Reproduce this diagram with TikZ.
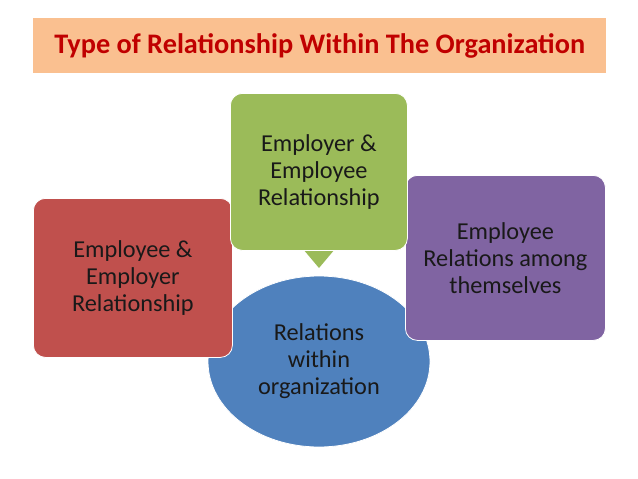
\documentclass[tikz,border=0pt]{standalone}
\usepackage{fontspec}
\setmainfont{Carlito}
\usetikzlibrary{shapes.geometric}
\definecolor{peach}{HTML}{FAC090}
\definecolor{titlered}{HTML}{C00000}
\definecolor{boxred}{HTML}{C0504D}
\definecolor{boxgreen}{HTML}{9BBB59}
\definecolor{boxpurple}{HTML}{8064A2}
\definecolor{boxblue}{HTML}{4F81BD}
\tikzset{
  boxtext/.style={align=center, font=\fontsize{24.3}{27}\selectfont, text=black!90},
  box/.style={boxtext, draw=white, line width=0.8pt, rounded corners=12pt},
}
\begin{document}
\begin{tikzpicture}[x=1pt,y=-1pt]
\useasboundingbox (0,0) rectangle (638,479);
\fill[white] (0,0) rectangle (638,479);
% title
\node[fill=peach, minimum width=573pt, minimum height=55pt, anchor=north west,
  font=\fontsize{28.3}{32}\selectfont\bfseries, text=titlered] (title) at (33,18)
  {Type of Relationship Within The Organization};
% ellipse
\node[ellipse, fill=boxblue, draw=white, line width=0.8pt, minimum width=222pt, minimum height=171pt,
  boxtext, inner sep=0pt] (center) at (319,361.5)
  {Relations\\within\\organization};
% red box
\node[box, fill=boxred, minimum width=199pt, minimum height=159pt, anchor=north west] (red) at (33,198)
  {Employee \&\\Employer\\Relationship};
% purple box
\node[box, fill=boxpurple, minimum width=200pt, minimum height=165pt, anchor=north west] (purple) at (405,175)
  {Employee\\Relations among\\themselves};
% green box with pointer
\fill[boxgreen] (303,249) -- (335,249) -- (319,268) -- cycle;
\node[box, fill=boxgreen, minimum width=177pt, minimum height=157pt, anchor=north west] (green) at (230,93)
  {Employer \&\\Employee\\Relationship};
\end{tikzpicture}
\end{document}
